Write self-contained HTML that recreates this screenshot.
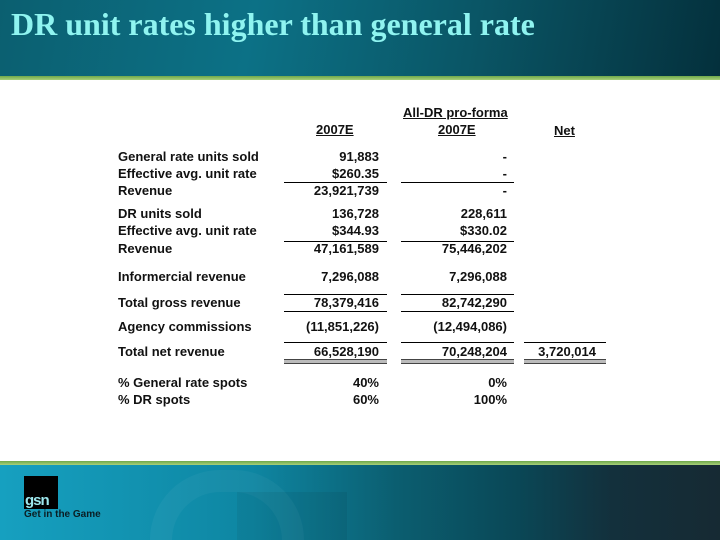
<!DOCTYPE html>
<html><head><meta charset="utf-8"><style>
html,body{margin:0;width:720px;height:540px;overflow:hidden}
body{background:#fff;position:relative;font-family:"Liberation Sans",Arial,sans-serif}
.hdr{position:absolute;left:0;top:0;width:720px;height:77px;background:linear-gradient(100deg,#0b5f70 0%,#0c7186 35%,#0a5666 65%,#04303c 100%)}
.gl{position:absolute;left:0;width:720px;height:4px;background:linear-gradient(#6fa84a,#a8d07a)}
.title{position:absolute;left:11px;top:4px;font-family:"Liberation Serif",serif;font-weight:bold;font-size:32px;line-height:40px;color:#8ff4f0;white-space:nowrap}
.ftr{position:absolute;left:0;top:465px;width:720px;height:75px;overflow:hidden;background:linear-gradient(90deg,#16a0c0 0%,#0e86a2 35%,#0b5e70 55%,#0a4756 72%,#13303c 85%,#162a33 100%)}
.t{position:absolute;font-weight:bold;font-size:13px;color:#111;white-space:nowrap;line-height:15px}
.l{left:118px}
.r{text-align:right}
.u{text-decoration:underline}
.ln{position:absolute;height:1px;background:#000}
.dbl{position:absolute;height:3px;border-top:1px solid #444;border-bottom:1px solid #444;background:#bbb}
</style></head><body>
<div class="hdr"></div>
<div class="title">DR unit rates higher than general rate</div>
<div class="gl" style="top:76px"></div>
<div class="gl" style="top:461px"></div>
<div class="ftr">
 <div style="position:absolute;left:150px;top:5px;width:110px;height:50px;border:22px solid rgba(255,255,255,0.04);border-bottom:none;border-radius:70px 70px 0 0"></div>
 <div style="position:absolute;left:237px;top:27px;width:110px;height:48px;background:rgba(0,0,0,0.06)"></div>
 <div style="position:absolute;left:24px;top:11px;width:34px;height:33px;background:#000"></div>
 <div style="position:absolute;left:25px;top:27px;font-weight:bold;font-size:15px;color:#9ee8ee;letter-spacing:-1px">gsn</div>
 <div style="position:absolute;left:24px;top:44px;font-weight:bold;font-size:10px;color:#0b1e24">Get in the Game</div>
</div>

<div class="t u" style="left:403px;top:105px">All-DR pro-forma</div>
<div class="t u" style="left:316px;top:122px">2007E</div>
<div class="t u" style="left:438px;top:122px">2007E</div>
<div class="t u" style="left:554px;top:123px">Net</div>

<div id="rows"></div>

<div class="ln" style="left:284px;top:182px;width:103px"></div>
<div class="ln" style="left:401px;top:182px;width:113px"></div>
<div class="ln" style="left:284px;top:241px;width:103px"></div>
<div class="ln" style="left:401px;top:241px;width:113px"></div>
<div class="ln" style="left:284px;top:294px;width:103px"></div>
<div class="ln" style="left:401px;top:294px;width:113px"></div>
<div class="ln" style="left:284px;top:311px;width:103px"></div>
<div class="ln" style="left:401px;top:311px;width:113px"></div>
<div class="ln" style="left:284px;top:342px;width:103px"></div>
<div class="ln" style="left:401px;top:342px;width:113px"></div>
<div class="ln" style="left:524px;top:342px;width:82px"></div>
<div class="dbl" style="left:284px;top:359px;width:103px"></div>
<div class="dbl" style="left:401px;top:359px;width:113px"></div>
<div class="dbl" style="left:524px;top:359px;width:82px"></div>

<script>
const labels=["General rate units sold","Effective avg. unit rate","Revenue","DR units sold","Effective avg. unit rate","Revenue","Informercial revenue","Total gross revenue","Agency commissions","Total net revenue","% General rate spots","% DR spots"];
const col2007=["91,883","$260.35","23,921,739","136,728","$344.93","47,161,589","7,296,088","78,379,416","(11,851,226)","66,528,190","40%","60%"];
const colDR=["-","-","-","228,611","$330.02","75,446,202","7,296,088","82,742,290","(12,494,086)","70,248,204","0%","100%"];
const colNet=["","","","","","","","","","3,720,014","",""];
const rowY=[149,166,183,206,223,241,269,295,319,344,375,392];
const root=document.getElementById('rows');
function add(txt,cls,style,name){
  const d=document.createElement('div');
  d.className='t '+cls;d.style.cssText=style;d.textContent=txt;
  
  
  root.appendChild(d);
}
labels.forEach((lab,i)=>{
  const y=rowY[i];
  add(lab,'l','top:'+y+'px','row-label');
  add(col2007[i],'r','top:'+y+'px;right:'+(720-379)+'px','value-2007e');
  add(colDR[i],'r','top:'+y+'px;right:'+(720-507)+'px','value-all-dr');
  if(colNet[i]) add(colNet[i],'r','top:'+y+'px;right:'+(720-596)+'px','value-net');
});
</script>
</body></html>
